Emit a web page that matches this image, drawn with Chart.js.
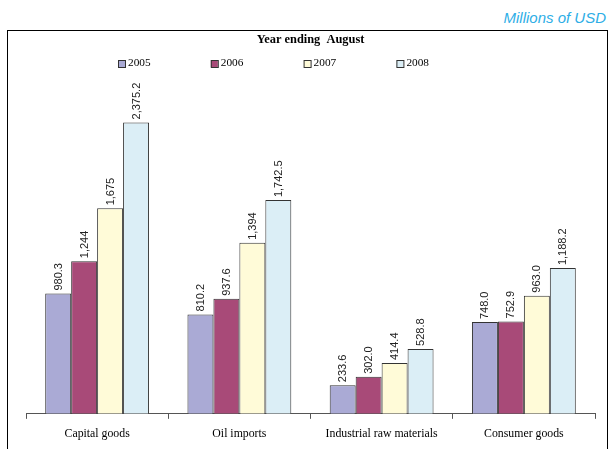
<!DOCTYPE html>
<html>
<head>
<meta charset="utf-8">
<script src="https://cdn.jsdelivr.net/npm/chart.js@4"></script>
<style>
  html, body { margin: 0; padding: 0; background: #fff; }
  #wrap { position: relative; width: 609px; height: 449px; overflow: hidden; }
  #unit {
    position: absolute; right: 3px; top: 9px;
    font: italic 15px "Liberation Sans", Arial, sans-serif;
    color: #2eaee6;
  }
  #frame {
    position: absolute; left: 7px; top: 30px; width: 599px; height: 440px;
    border: 1px solid #000;
  }
  #chart { position: absolute; left: 0; top: 0; }
</style>
</head>
<body>
<div id="wrap">
  <div id="unit">Millions of USD</div>
  <div id="frame"></div>
  <canvas id="chart" width="609" height="449"></canvas>
</div>
<script>
var categories = ["Capital goods", "Oil imports", "Industrial raw materials", "Consumer goods"];
var years = ["2005", "2006", "2007", "2008"];

var v2005 = [980.3, 810.2, 233.6, 748.0];
var v2006 = [1244, 937.6, 302.0, 752.9];
var v2007 = [1675, 1394, 414.4, 963.0];
var v2008 = [2375.2, 1742.5, 528.8, 1188.2];

// decimals shown in each value label
var d2005 = [1, 1, 1, 1];
var d2006 = [0, 1, 1, 1];
var d2007 = [0, 0, 1, 1];
var d2008 = [1, 1, 1, 1];

var colors = ["#aaaad5", "#a84a78", "#fffbd8", "#dbeef6"];

var serif = "'Liberation Serif', 'Times New Roman', serif";

function fmt(v, d) {
  return v.toLocaleString("en-US", { minimumFractionDigits: d, maximumFractionDigits: d });
}

var series = [[v2005, d2005], [v2006, d2006], [v2007, d2007], [v2008, d2008]];

var datasets = series.map(function (s, i) {
  return {
    label: years[i],
    data: s[0],
    decimals: s[1],
    backgroundColor: colors[i],
    borderColor: "#333",
    borderWidth: 1,
    borderSkipped: "bottom",
    categoryPercentage: 0.73,
    barPercentage: 1
  };
});

// rotated value labels above each bar
var valueLabels = {
  id: "valueLabels",
  afterDatasetsDraw: function (chart) {
    var ctx = chart.ctx;
    ctx.save();
    ctx.font = "11px 'Liberation Sans', Arial, sans-serif";
    ctx.fillStyle = "#222";
    ctx.textAlign = "left";
    ctx.textBaseline = "middle";
    chart.data.datasets.forEach(function (ds, i) {
      chart.getDatasetMeta(i).data.forEach(function (bar, j) {
        ctx.save();
        ctx.translate(bar.x + 0.5, bar.y - 3);
        ctx.rotate(-Math.PI / 2);
        ctx.fillText(fmt(ds.data[j], ds.decimals[j]), 0, 0);
        ctx.restore();
      });
    });
    ctx.restore();
  }
};

// one-row legend with wide spacing, under the title
var legendRow = {
  id: "legendRow",
  afterDraw: function (chart) {
    var ctx = chart.ctx;
    var x0 = 118, step = 92.8, y = 63.5, box = 7;
    ctx.save();
    ctx.font = "11.3px " + serif;
    ctx.textBaseline = "middle";
    ctx.textAlign = "left";
    chart.data.datasets.forEach(function (ds, i) {
      var x = x0 + i * step;
      ctx.fillStyle = ds.backgroundColor;
      ctx.fillRect(x, y - box / 2, box, box);
      ctx.strokeStyle = "#333";
      ctx.lineWidth = 1;
      ctx.strokeRect(x + 0.5, y - box / 2 + 0.5, box, box);
      ctx.fillStyle = "#000";
      ctx.fillText(ds.label, x + box + 3, y);
    });
    ctx.restore();
  }
};

new Chart(document.getElementById("chart"), {
  type: "bar",
  data: { labels: categories, datasets: datasets },
  options: {
    responsive: false,
    animation: false,
    layout: { padding: { left: 26, right: 14, bottom: 0 } },
    plugins: {
      title: {
        display: true,
        text: "Year ending  August",
        color: "#000",
        font: { family: serif, size: 12.4, weight: "bold" },
        padding: { top: 32.6, bottom: 27.5 }
      },
      legend: { display: false },
      tooltip: { enabled: false }
    },
    scales: {
      x: {
        grid: { display: true, drawOnChartArea: false, drawTicks: true, tickLength: 5, color: "#555", offset: true },
        border: { display: true, color: "#555", width: 1 },
        ticks: {
          color: "#000",
          padding: 8,
          font: { family: serif, size: 11.8 }
        }
      },
      y: {
        display: false,
        min: 0,
        max: 2762
      }
    }
  },
  plugins: [valueLabels, legendRow]
});
</script>
</body>
</html>
